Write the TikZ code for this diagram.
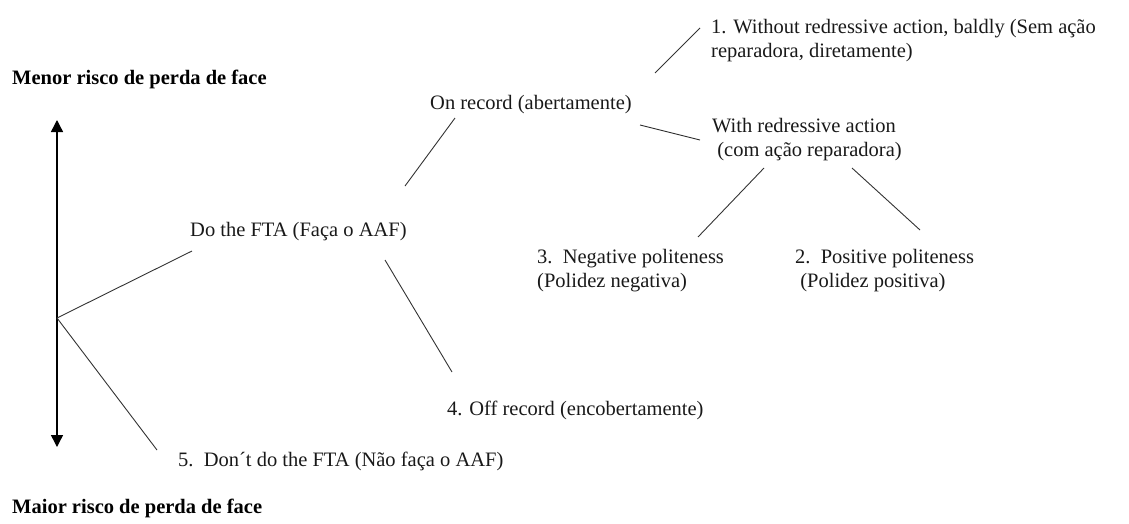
\documentclass[tikz,border=0pt]{standalone}
\usepackage{fontspec}
\setmainfont{Liberation Serif}
\usetikzlibrary{arrows.meta}
\begin{document}
\begin{tikzpicture}[x=1pt,y=-1pt,
  lbl/.style={anchor=west,inner sep=0pt,align=left,text=black!90,font=\fontsize{20.5}{24}\selectfont},
  hdr/.style={anchor=west,inner sep=0pt,text=black,font=\fontsize{20.5}{24}\selectfont\bfseries},
  conn/.style={draw=black!80,line width=0.9pt},
  axis/.style={draw=black,line width=1.4pt,-{Triangle[width=12pt,length=12pt]}}]
\useasboundingbox (0,0) rectangle (1129,523);
% headings
\node[hdr] (menor) at (12,79) {Menor risco de perda de face};
\node[hdr] (maior) at (12,508) {Maior risco de perda de face};
% text nodes
\node[lbl] (dofta) at (190,232) {Do the FTA (Faça o AAF)};
\node[lbl] (onrec) at (430,105) {On record (abertamente)};
\node[lbl] (without) at (711,41) {1. Without redressive action, baldly (Sem ação\\reparadora, diretamente)};
\node[lbl] (with) at (712,140) {With redressive action\\\ (com ação reparadora)};
\node[lbl] (neg) at (537,271) {3.\ \ Negative politeness\\(Polidez negativa)};
\node[lbl] (pos) at (795,271) {2.\ \ Positive politeness\\\ (Polidez positiva)};
\node[lbl] (off) at (447,410) {4. Off record (encobertamente)};
\node[lbl] (dont) at (178,461) {5.\ \ Don´t do the FTA (Não faça o AAF)};
% axis
\coordinate (br) at (57,318);
\coordinate (top) at (57,120);
\coordinate (bot) at (57,447);
\draw[axis] (br) -- (top);
\draw[axis] (br) -- (bot);
% connector end points
\coordinate (c1) at (192,251);
\coordinate (c2) at (157,450);
\coordinate (c3a) at (405,186);
\coordinate (c3b) at (455,118);
\coordinate (c4a) at (385,260);
\coordinate (c4b) at (452,372);
\coordinate (c5a) at (655,73);
\coordinate (c5b) at (700,28);
\coordinate (c6a) at (640,125);
\coordinate (c6b) at (700,140);
\coordinate (c7a) at (764,168);
\coordinate (c7b) at (698,237);
\coordinate (c8a) at (852,168);
\coordinate (c8b) at (920,230);
\draw[conn] (br) -- (c1);
\draw[conn] (br) -- (c2);
\draw[conn] (c3a) -- (c3b);
\draw[conn] (c4a) -- (c4b);
\draw[conn] (c5a) -- (c5b);
\draw[conn] (c6a) -- (c6b);
\draw[conn] (c7a) -- (c7b);
\draw[conn] (c8a) -- (c8b);
\end{tikzpicture}
\end{document}
